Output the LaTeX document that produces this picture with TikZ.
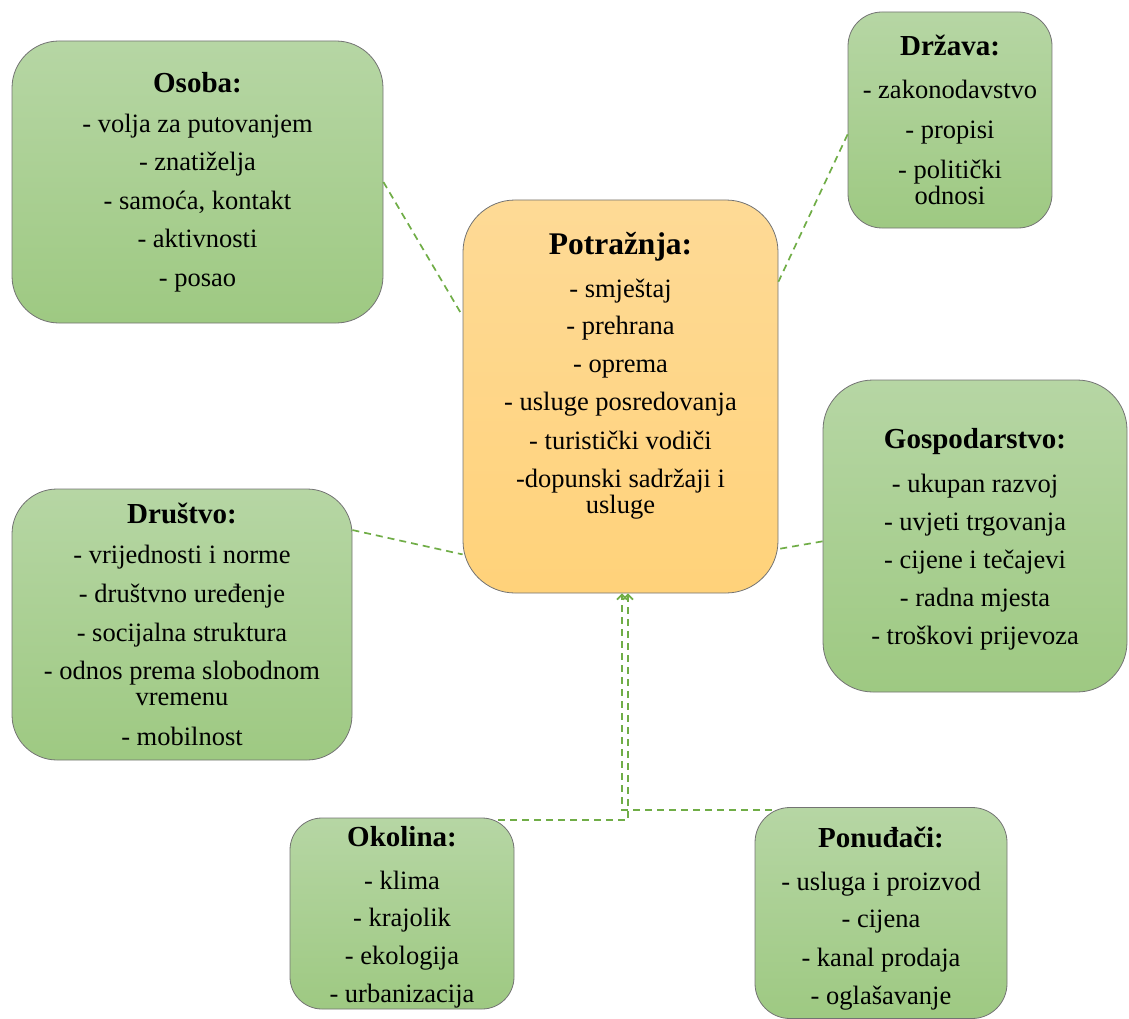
\documentclass[tikz,border=0pt]{standalone}
\usepackage{fontspec}
\setmainfont{Liberation Serif}
\usetikzlibrary{arrows.meta}
\definecolor{greentop}{RGB}{182,214,164}
\definecolor{greenbot}{RGB}{158,201,130}
\definecolor{orangetop}{RGB}{254,218,150}
\definecolor{orangebot}{RGB}{255,210,122}
\definecolor{linkgreen}{RGB}{112,173,71}
\newcommand{\boxtitle}[1]{{\fontsize{29}{26}\selectfont\bfseries #1}}
\tikzset{> = {Straight Barb[length=5pt,width=10pt]},
  factor/.style={draw=black!55, line width=0.8pt, top color=greentop, bottom color=greenbot, align=center, inner sep=0pt},
  link/.style={draw=linkgreen, line width=1.7pt, dash pattern=on 7pt off 5pt}}

\begin{document}
\begin{tikzpicture}[x=1pt,y=-1pt,font={\fontsize{26.5}{26}\selectfont}]
\useasboundingbox (0,0) rectangle (1129,1019);

\begin{scope}[every node/.style={factor}]
\node[minimum width=371pt,minimum height=282pt,rounded corners=47pt] (osoba) at (197.5,182)
  {\boxtitle{Osoba:}\\[14pt] - volja za putovanjem\\[12.5pt] - znatiželja\\[12.5pt] - samoća, kontakt\\[12.5pt] - aktivnosti\\[12.5pt] - posao};
\node[minimum width=204pt,minimum height=216pt,rounded corners=34pt] (drzava) at (950,120)
  {\boxtitle{Država:}\\[17pt] - zakonodavstvo\\[14pt] - propisi\\[14pt] - politički\\ odnosi};
\node[minimum width=315pt,minimum height=393pt,rounded corners=52pt,top color=orangetop,bottom color=orangebot] (potraznja) at (620.5,396.5)
  {{\fontsize{31.5}{26}\selectfont\bfseries Potražnja:}\\[17pt] - smještaj\\[11pt] - prehrana\\[12pt] - oprema\\[12.5pt] - usluge posredovanja\\[12.5pt] - turistički vodiči\\[12pt] -dopunski sadržaji i\\ usluge\\[21.5pt] \mbox{}};
\node[minimum width=304pt,minimum height=312pt,rounded corners=50pt] (gospodarstvo) at (975,536)
  {\boxtitle{Gospodarstvo:}\\[18pt] - ukupan razvoj\\[11.5pt] - uvjeti trgovanja\\[12pt] - cijene i tečajevi\\[12.5pt] - radna mjesta\\[12pt] - troškovi prijevoza\\[-27pt] \mbox{}};
\node[minimum width=340pt,minimum height=271pt,rounded corners=45pt] (drustvo) at (182,624.5)
  {\boxtitle{Društvo:}\\[14pt] - vrijednosti i norme\\[13pt] - društvno uređenje\\[13pt] - socijalna struktura\\[12pt] - odnos prema slobodnom\\ vremenu\\[14pt] - mobilnost};
\node[minimum width=224pt,minimum height=191pt,rounded corners=32pt] (okolina) at (402,913.5)
  {\boxtitle{Okolina:}\\[17pt] - klima\\[11.5pt] - krajolik\\[12pt] - ekologija\\[12pt] - urbanizacija\\[-28pt] \mbox{}};
\node[minimum width=252pt,minimum height=211pt,rounded corners=35pt] (ponudjaci) at (881,913)
  {\boxtitle{Ponuđači:}\\[17pt] - usluga i proizvod\\[11pt] - cijena\\[13pt] - kanal prodaja\\[12pt] - oglašavanje\\[-31pt] \mbox{}};
\end{scope}

\begin{scope}[every edge/.style={link}]
\path (osoba.east) edge (potraznja.153.5);
\path (drzava.188) edge (potraznja.36);
\path (gospodarstvo.182) edge (potraznja.-44);
\path (drustvo.29) edge (potraznja.225);
\path [->] ([xshift=-16pt,yshift=-2.5pt]okolina.north east) edge[to path={-| (\tikztotarget)}] ([xshift=7.5pt]potraznja.south);
\path [->] ([xshift=17pt,yshift=-3pt]ponudjaci.north west) edge[to path={-| (\tikztotarget)}] ([xshift=1.5pt]potraznja.south);
\end{scope}
\end{tikzpicture}
\end{document}
